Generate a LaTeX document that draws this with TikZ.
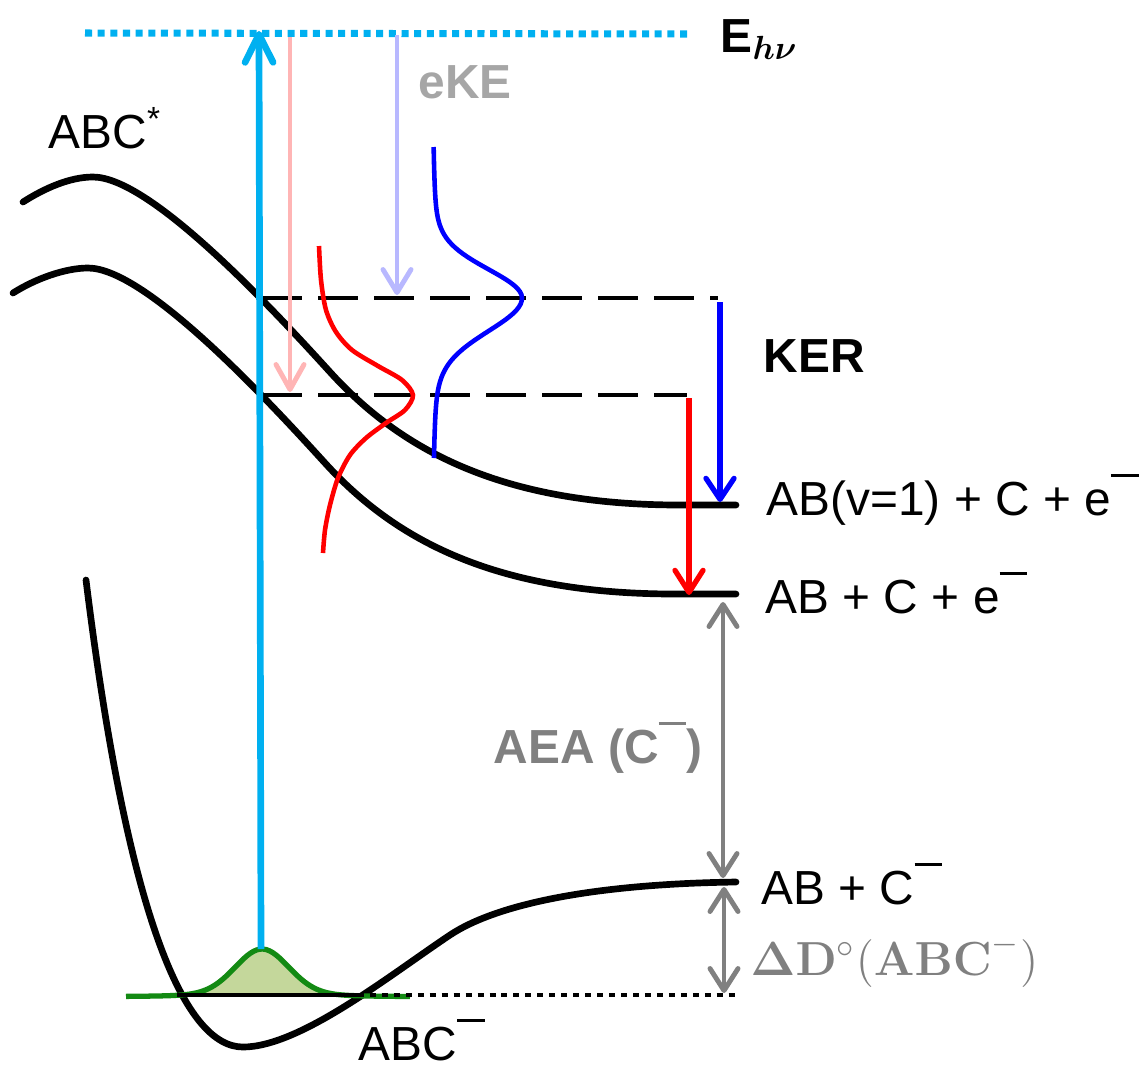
\RequirePackage{fix-cm}
\documentclass[tikz,border=0pt]{standalone}
\usepackage[no-math]{fontspec}
\setmainfont{Liberation Sans}
\usepackage{amsmath}
\usetikzlibrary{arrows.meta}
\definecolor{uvcyan}{HTML}{00B0F0}
\definecolor{ekepink}{HTML}{FFB5B5}
\definecolor{ekelav}{HTML}{B8B8FF}
\definecolor{ekegray}{HTML}{A6A6A6}
\definecolor{enggray}{HTML}{808080}
\definecolor{wfgreen}{HTML}{138A13}
\definecolor{wffill}{HTML}{C4D79B}
\newcommand\chgbar{\raisebox{0.79em}{\rule{0.58em}{0.06em}}}

\begin{document}
\begin{tikzpicture}[x=0.01cm, y=-0.01cm,
    pes/.style={line width=1.9pt, line cap=round},
    level/.style={line width=1.4pt, dash pattern=on 0.40cm off 0.16cm},
    spec/.style={line width=1.3pt},
    barb/.style={-{Straight Barb[length=#1, width=0.28cm, round]}},
    dbarb/.style={{Straight Barb[length=0.22cm, width=0.28cm, round]}-{Straight Barb[length=0.22cm, width=0.28cm, round]}},
    lbl/.style={inner sep=0pt, anchor=base west, font=\fontsize{13.6}{16}\selectfont}
]
    \useasboundingbox (0,0) rectangle (1140,1066);

    % Levels
    \coordinate (ehv) at (85,33);
    \coordinate (ehvend) at (690,34);
    \coordinate (hi) at (262,298);
    \coordinate (hiend) at (718,298);
    \coordinate (lo) at (262,395);
    \coordinate (loend) at (687,395);
    \coordinate (vone) at (736,505);
    \coordinate (vzero) at (736,594);
    \coordinate (anion) at (736,882);
    \coordinate (gsl) at (358,995);
    \coordinate (gslend) at (736,995);

    % Potential curves
    \draw[pes] (23,202) .. controls (45,188) and (70,177) .. (93,177)
        .. controls (150,177) and (270,306) .. (330,372)
        .. controls (400,449) and (500,505) .. (680,505) -- (vone);
    \draw[pes] (13,293) .. controls (35,279) and (65,268) .. (88,268)
        .. controls (145,268) and (265,397) .. (325,463)
        .. controls (395,540) and (495,594) .. (675,594) -- (vzero);
    \draw[pes] (86,580) .. controls (128,920) and (185,1047) .. (243,1047)
        .. controls (300,1047) and (390,975) .. (450,935)
        .. controls (495,905) and (590,884) .. (anion);

    % Ground state wavefunction
    \fill[wffill] plot[domain=177:358, samples=60] (\x,{997-40*exp(-((\x-262)/38)^2)-8/(1+((\x-262)/40)^2)}) -- (gsl) -- (177,995) -- cycle;
    \draw[wfgreen, line width=1.5pt] plot[domain=126:410, samples=90] (\x,{997-40*exp(-((\x-262)/38)^2)-8/(1+((\x-262)/40)^2)});
    \draw[line width=0.9pt] (177,995) -- (gsl);
    \draw[line width=1.4pt, dash pattern=on 1.7pt off 1.7pt] (gsl) -- (gslend);

    % Photon energy
    \draw[uvcyan, line width=2pt, dash pattern=on 2pt off 1.6pt] (ehv) -- (ehvend);
    \node[lbl] (ehvlbl) at (720,52) {\textbf{E}$_{\boldsymbol{h\nu}}$};

    % Dissociation levels
    \draw[level] (hi) -- (hiend);
    \draw[level] (lo) -- (loend);

    % Electron kinetic energy
    \draw[ekepink, line width=1.4pt, barb=0.25cm] (290,37) -- (290,392);
    \draw[ekelav, line width=1.4pt, barb=0.23cm] (397,35) -- (397,295);
    \node[lbl, text=ekegray] (eke) at (418,98) {\textbf{eKE}};

    % Spectra
    \draw[red, spec] plot[smooth] coordinates {(319,246) (321,280) (326,310) (336,332) (352,350) (378,366)
        (402,380) (413,395) (405,410) (386,423) (366,438) (350,455) (338,478) (330,505) (325,530) (323,553)};
    \draw[blue, spec] plot[domain=147:458, samples=100]
        ({432+76*exp(-((\x-298)/(40+6*(\x>298)))^2)+14/(1+((\x-298)/(55+10*(\x>298)))^2)},\x);

    % Photodetachment
    \draw[uvcyan, line width=1.9pt, barb=0.28cm] (261,949) -- (259,31);

    % Kinetic energy release
    \draw[blue, line width=1.5pt, barb=0.21cm] (720,302) -- (720,502);
    \draw[red, line width=1.5pt, barb=0.22cm] (689,398) -- (689,595);
    \node[lbl] (ker) at (763,372) {\textbf{KER}};

    % Energetics
    \draw[enggray, line width=1.4pt, dbarb] (723,602) -- (723,878);
    \draw[enggray, line width=1.4pt, dbarb] (724,887) -- (724,993);
    \node[lbl, anchor=base east, text=enggray] (aea) at (703,763) {\textbf{AEA (C\chgbar)}};
    \node[lbl, text=enggray] (dd) at (750,975) {$\boldsymbol{\Delta}\mathbf{D}^{\circ}(\mathbf{ABC}^{-})$};

    % State labels
    \node[lbl] (exc) at (48,148) {ABC\textsuperscript{*}};
    \node[lbl] (lvone) at (766,515) {AB(v=1) + C + e\chgbar};
    \node[lbl] (lvzero) at (765,613) {AB + C + e\chgbar};
    \node[lbl] (lanion) at (761,904) {AB + C\chgbar};
    \node[lbl] (lgs) at (358,1060) {ABC\chgbar};
\end{tikzpicture}
\end{document}
